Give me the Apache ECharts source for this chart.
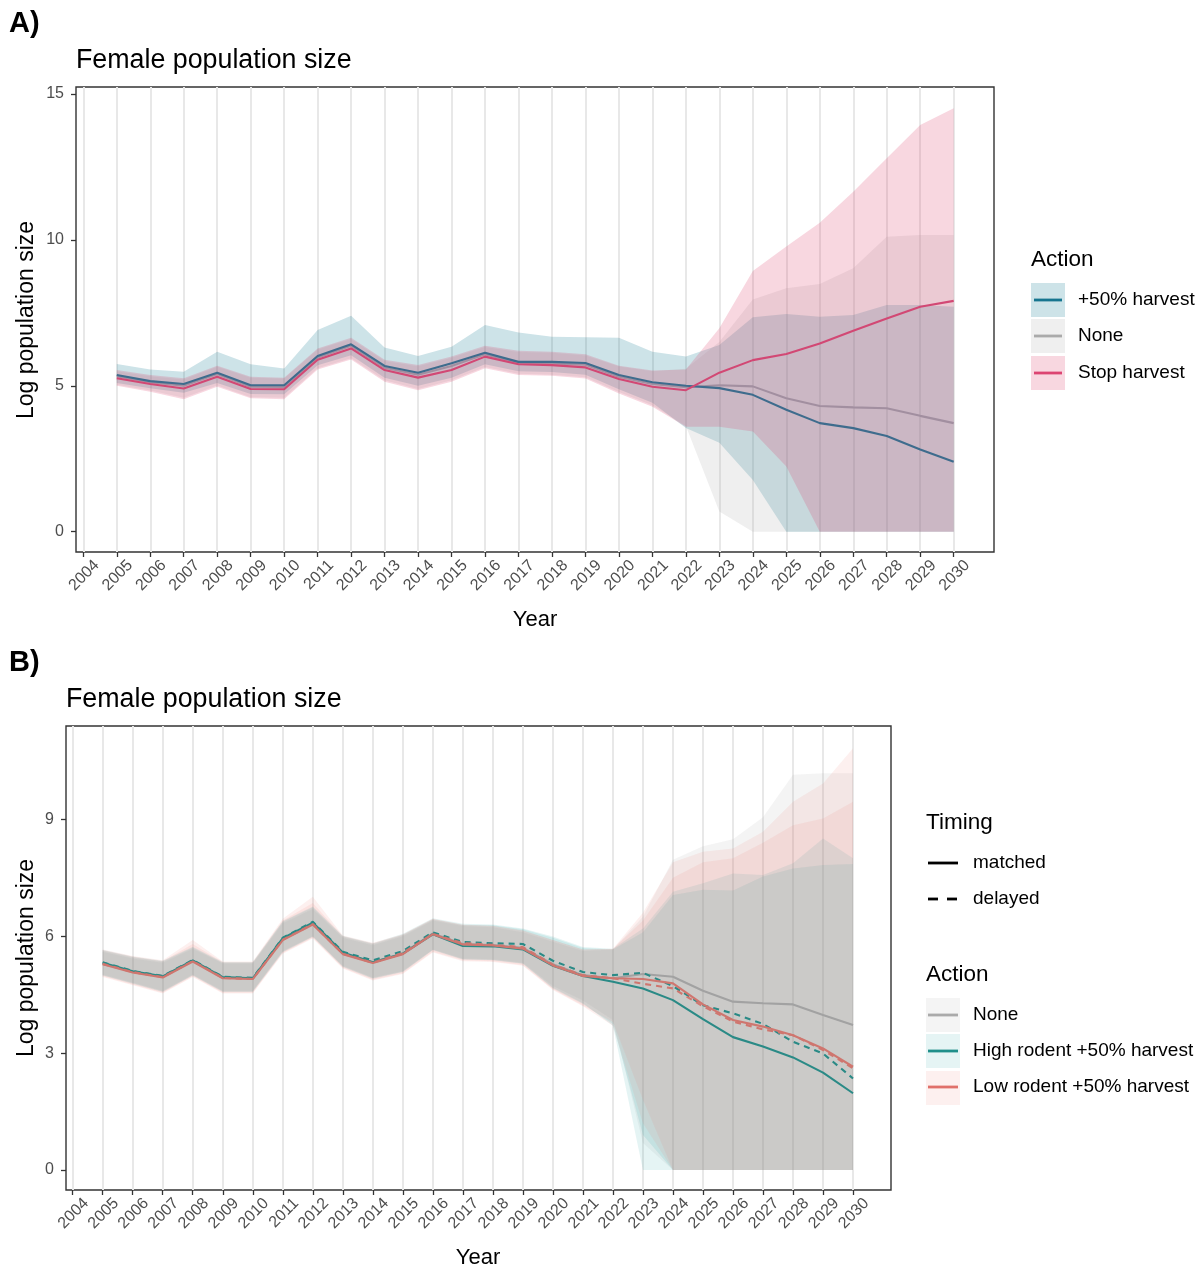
<!DOCTYPE html>
<html>
<head>
<meta charset="utf-8">
<script src="https://cdn.jsdelivr.net/npm/echarts@6/dist/echarts.min.js"></script>
<style>
  html, body { margin: 0; padding: 0; background: #ffffff; }
  #chart { width: 1204px; height: 1268px; }
</style>
</head>
<body>
<div id="chart"></div>
<script>
// ---- shared axes ----
const years = [2005, 2006, 2007, 2008, 2009, 2010, 2011, 2012, 2013, 2014, 2015, 2016, 2017,
               2018, 2019, 2020, 2021, 2022, 2023, 2024, 2025, 2026, 2027, 2028, 2029, 2030];
const yearTicks = [2004, 2005, 2006, 2007, 2008, 2009, 2010, 2011, 2012, 2013, 2014, 2015, 2016, 2017,
                   2018, 2019, 2020, 2021, 2022, 2023, 2024, 2025, 2026, 2027, 2028, 2029, 2030];
const yTicksA = [0, 5, 10, 15];
const yTicksB = [0, 3, 6, 9];

// ---- panel A: harvest actions (mean and interval of log female population) ----
const harvest50 = [5.37, 5.16, 5.06, 5.45, 5.02, 5.02, 6.02, 6.42, 5.68, 5.45, 5.77, 6.13, 5.82,
                   5.82, 5.78, 5.37, 5.12, 5.00, 4.92, 4.69, 4.18, 3.72, 3.55, 3.28, 2.82, 2.40];
const harvest50Lo = [5.10, 4.92, 4.76, 5.10, 4.72, 4.71, 5.70, 6.05, 5.28, 5.00, 5.28, 5.74, 5.50,
                     5.47, 5.38, 4.88, 4.42, 3.55, 3.05, 1.77, 0, 0, 0, 0, 0, 0];
const harvest50Hi = [5.75, 5.56, 5.48, 6.17, 5.74, 5.59, 6.91, 7.40, 6.31, 6.02, 6.34, 7.08, 6.83,
                     6.68, 6.66, 6.65, 6.17, 6.00, 6.40, 7.35, 7.46, 7.37, 7.43, 7.77, 7.77, 7.71];
const noneA = [5.33, 5.12, 5.00, 5.40, 4.97, 4.96, 5.97, 6.37, 5.62, 5.38, 5.68, 6.08, 5.78,
               5.77, 5.72, 5.31, 5.06, 4.95, 5.02, 4.98, 4.57, 4.31, 4.26, 4.23, 3.97, 3.72];
const noneALo = [5.04, 4.84, 4.59, 5.01, 4.61, 4.59, 5.60, 5.94, 5.19, 4.89, 5.19, 5.64, 5.41,
                 5.38, 5.29, 4.79, 4.33, 3.62, 0.69, 0, 0, 0, 0, 0, 0, 0];
const noneAHi = [5.50, 5.33, 5.22, 5.65, 5.28, 5.25, 6.24, 6.60, 5.85, 5.67, 5.96, 6.33, 6.16,
                 6.13, 6.04, 5.66, 5.50, 5.58, 6.50, 7.96, 8.34, 8.49, 9.03, 10.11, 10.17, 10.17];
const stopHarvest = [5.26, 5.06, 4.91, 5.31, 4.89, 4.88, 5.89, 6.28, 5.54, 5.28, 5.54, 6.00, 5.74,
                     5.71, 5.63, 5.23, 4.97, 4.85, 5.45, 5.88, 6.09, 6.45, 6.89, 7.31, 7.71, 7.91];
const stopHarvestLo = [5.00, 4.80, 4.54, 4.97, 4.57, 4.54, 5.56, 5.90, 5.14, 4.85, 5.14, 5.60, 5.37,
                       5.34, 5.25, 4.74, 4.28, 3.60, 3.60, 3.43, 2.23, 0, 0, 0, 0, 0];
const stopHarvestHi = [5.54, 5.37, 5.26, 5.69, 5.31, 5.28, 6.28, 6.65, 5.89, 5.71, 6.00, 6.37, 6.20,
                       6.17, 6.08, 5.69, 5.52, 5.56, 6.97, 8.93, 9.77, 10.59, 11.65, 12.80, 13.94, 14.51];

// ---- panel B: rodent scenarios with matched / delayed timing ----
const noneB = [5.30, 5.09, 4.96, 5.37, 4.94, 4.91, 5.92, 6.33, 5.56, 5.33, 5.56, 6.07, 5.80,
               5.77, 5.70, 5.28, 5.00, 4.92, 5.03, 4.96, 4.60, 4.32, 4.28, 4.25, 3.98, 3.72];
const noneBLo = [5.02, 4.81, 4.60, 5.02, 4.60, 4.60, 5.62, 6.00, 5.24, 4.94, 5.11, 5.66, 5.43,
                 5.41, 5.32, 4.72, 4.35, 3.85, 0.69, 0, 0, 0, 0, 0, 0, 0];
const noneBHi = [5.60, 5.43, 5.32, 5.68, 5.30, 5.30, 6.33, 6.70, 5.96, 5.77, 6.00, 6.40, 6.26,
                 6.23, 6.10, 5.86, 5.62, 5.66, 6.50, 7.96, 8.31, 8.49, 9.05, 10.14, 10.18, 10.18];

const highMatched = [5.32, 5.10, 4.97, 5.38, 4.95, 4.92, 5.95, 6.35, 5.58, 5.33, 5.55, 6.05, 5.75,
                     5.74, 5.66, 5.24, 4.98, 4.83, 4.66, 4.36, 3.87, 3.41, 3.17, 2.89, 2.50, 1.97];
const highMatchedLo = [5.00, 4.79, 4.58, 5.00, 4.58, 4.58, 5.60, 5.99, 5.22, 4.92, 5.09, 5.65, 5.41,
                       5.39, 5.30, 4.68, 4.28, 3.70, 0, 0, 0, 0, 0, 0, 0, 0];
const highMatchedHi = [5.63, 5.46, 5.35, 5.71, 5.32, 5.32, 6.37, 6.74, 5.99, 5.80, 6.03, 6.43, 6.29,
                       6.28, 6.18, 5.96, 5.70, 5.66, 6.10, 7.06, 7.19, 7.17, 7.53, 7.74, 7.83, 7.85];

const highDelayed = [5.33, 5.11, 4.98, 5.39, 4.96, 4.93, 5.96, 6.37, 5.60, 5.38, 5.62, 6.10, 5.85,
                     5.82, 5.80, 5.37, 5.08, 5.00, 5.06, 4.72, 4.23, 4.02, 3.75, 3.29, 2.99, 2.35];
const highDelayedLo = [4.99, 4.78, 4.57, 4.99, 4.57, 4.57, 5.59, 5.98, 5.21, 4.91, 5.08, 5.64, 5.40,
                       5.38, 5.29, 4.66, 4.26, 3.75, 0.90, 0, 0, 0, 0, 0, 0, 0];
const highDelayedHi = [5.65, 5.48, 5.37, 5.73, 5.34, 5.34, 6.39, 6.76, 6.01, 5.82, 6.06, 6.46, 6.32,
                       6.30, 6.20, 5.99, 5.72, 5.68, 6.20, 7.14, 7.36, 7.61, 7.57, 7.87, 8.51, 8.00];

const lowMatched = [5.28, 5.07, 4.94, 5.35, 4.92, 4.90, 5.90, 6.30, 5.54, 5.31, 5.54, 6.05, 5.79,
                    5.76, 5.68, 5.25, 4.98, 4.92, 4.90, 4.79, 4.25, 3.85, 3.68, 3.46, 3.12, 2.65];
const lowMatchedLo = [4.95, 4.74, 4.53, 4.95, 4.53, 4.53, 5.55, 5.94, 5.17, 4.86, 5.03, 5.58, 5.36,
                      5.34, 5.24, 4.62, 4.20, 3.70, 1.20, 0, 0, 0, 0, 0, 0, 0];
const lowMatchedHi = [5.66, 5.49, 5.38, 5.90, 5.35, 5.35, 6.45, 7.01, 6.02, 5.83, 6.05, 6.45, 6.30,
                      6.27, 6.15, 5.90, 5.66, 5.68, 6.60, 7.90, 8.17, 8.25, 8.68, 9.45, 9.92, 10.82];

const lowDelayed = [5.29, 5.08, 4.95, 5.36, 4.93, 4.90, 5.91, 6.31, 5.55, 5.32, 5.57, 6.06, 5.82,
                    5.78, 5.72, 5.27, 5.00, 4.92, 4.78, 4.66, 4.20, 3.81, 3.61, 3.46, 3.08, 2.61];
const lowDelayedLo = [4.97, 4.76, 4.55, 4.97, 4.55, 4.55, 5.57, 5.96, 5.19, 4.88, 5.05, 5.60, 5.38,
                      5.36, 5.26, 4.64, 4.22, 3.80, 1.80, 0, 0, 0, 0, 0, 0, 0];
const lowDelayedHi = [5.64, 5.47, 5.36, 5.80, 5.33, 5.33, 6.40, 6.85, 6.00, 5.81, 6.04, 6.44, 6.29,
                      6.26, 6.14, 5.90, 5.66, 5.67, 6.40, 7.50, 7.90, 8.00, 8.40, 8.85, 9.02, 9.45];

// ---- styling ----
const FONT = "'Liberation Sans', Arial, Helvetica, sans-serif";
const TICK_COLOR = '#4d4d4d';
const FRAME = '#333333';

const FILL_HARVEST = 'rgba(5,115,140,0.2)';
const FILL_NONE_A = 'rgba(175,175,175,0.2)';
const FILL_STOP = 'rgba(220,55,100,0.2)';
const FILL_NONE_B = 'rgba(150,150,150,0.105)';
const FILL_HIGH = 'rgba(10,155,155,0.105)';
const FILL_LOW = 'rgba(235,110,100,0.105)';

// interval band drawn as one polygon through the axis scales
function band(idx, lo, hi, fill, z) {
  return {
    type: 'custom', xAxisIndex: idx, yAxisIndex: idx, z: z, silent: true,
    data: years.map((y, i) => [y, lo[i], hi[i]]),
    encode: { x: 0, y: [1, 2] },
    renderItem: function (params, api) {
      if (params.dataIndex !== 0) return null;
      const pts = [];
      for (let i = 0; i < years.length; i++) pts.push(api.coord([years[i], hi[i]]));
      for (let i = years.length - 1; i >= 0; i--) pts.push(api.coord([years[i], lo[i]]));
      return { type: 'polygon', shape: { points: pts }, style: { fill: fill } };
    }
  };
}

function line(idx, vals, color, z, dashed) {
  return {
    type: 'line', xAxisIndex: idx, yAxisIndex: idx, z: z, silent: true,
    data: years.map((y, i) => [y, vals[i]]),
    symbol: 'none',
    lineStyle: { color: color, width: 2.1, type: dashed ? [6, 5] : 'solid', cap: 'butt' },
    emphasis: { disabled: true }
  };
}

function xAxis(idx, min, max) {
  return {
    type: 'value', gridIndex: idx, min: min, max: max,
    axisLine: { show: false, onZero: false },
    axisTick: { show: true, customValues: yearTicks, length: 5, lineStyle: { color: FRAME, width: 1.3 } },
    axisLabel: {
      customValues: yearTicks, rotate: 45, margin: 13, fontSize: 16, color: TICK_COLOR,
      fontFamily: FONT, verticalAlign: 'top', padding: [0, -11, 0, 0],
      formatter: v => String(Math.round(v))
    },
    splitLine: { show: true, lineStyle: { color: '#e8e8e8', width: 2 } }
  };
}

function yAxis(idx, min, max, ticks) {
  return {
    type: 'value', gridIndex: idx, min: min, max: max,
    axisLine: { show: false, onZero: false },
    axisTick: { show: true, customValues: ticks, length: 5, lineStyle: { color: FRAME, width: 1.3 } },
    axisLabel: {
      customValues: ticks, margin: 12, fontSize: 16, color: TICK_COLOR,
      fontFamily: FONT, formatter: v => String(Math.round(v))
    },
    splitLine: { show: false }
  };
}

function text(x, y, s, size, extra) {
  const o = extra || {};
  return {
    type: 'text', x: x, y: y, rotation: o.rot || 0, silent: true, z: 50,
    style: {
      text: s, fontSize: size, fontFamily: FONT, fontWeight: o.bold ? 'bold' : 'normal',
      fill: o.color || '#000000', align: o.align || 'left', verticalAlign: 'middle'
    }
  };
}
function rect(x, y, w, h, fill) {
  return { type: 'rect', silent: true, z: 50, shape: { x: x, y: y, width: w, height: h }, style: { fill: fill } };
}
function seg(x1, y1, x2, y2, color, w) {
  return { type: 'line', silent: true, z: 51, shape: { x1: x1, y1: y1, x2: x2, y2: y2 },
           style: { stroke: color, lineWidth: w } };
}

const graphics = [
  // panel A headings
  text(9, 24, 'A)', 29, { bold: true }),
  text(76, 61, 'Female population size', 26.8),
  text(535, 620, 'Year', 22, { align: 'center' }),
  text(27, 320, 'Log population size', 23, { align: 'center', rot: Math.PI / 2 }),
  // panel A legend
  text(1031, 260, 'Action', 22.5),
  rect(1031, 283, 34, 34, FILL_HARVEST), seg(1034, 300, 1062, 300, '#16758f', 2.8),
  rect(1031, 319, 34, 34, FILL_NONE_A), seg(1034, 336, 1062, 336, '#aaaaaa', 2.8),
  rect(1031, 356, 34, 34, FILL_STOP), seg(1034, 373, 1062, 373, '#dc4472', 2.8),
  text(1078, 300, '+50% harvest', 19),
  text(1078, 336, 'None', 19),
  text(1078, 373, 'Stop harvest', 19),

  // panel B headings
  text(9, 663, 'B)', 29, { bold: true }),
  text(66, 700, 'Female population size', 26.8),
  text(478, 1258, 'Year', 22, { align: 'center' }),
  text(27, 958, 'Log population size', 23, { align: 'center', rot: Math.PI / 2 }),
  // panel B legends
  text(926, 823, 'Timing', 22.5),
  seg(928, 863, 958, 863, '#000000', 2.8),
  seg(928, 899, 938, 899, '#000000', 2.8), seg(947, 899, 957, 899, '#000000', 2.8),
  text(973, 863, 'matched', 19),
  text(973, 899, 'delayed', 19),
  text(926, 975, 'Action', 22.5),
  rect(926, 998, 34, 34, FILL_NONE_B), seg(928, 1015, 958, 1015, '#aaaaaa', 2.8),
  rect(926, 1034, 34, 34, FILL_HIGH), seg(928, 1051, 958, 1051, '#1f8f8a', 2.8),
  rect(926, 1071, 34, 34, FILL_LOW), seg(928, 1087, 958, 1087, '#e0706a', 2.8),
  text(973, 1015, 'None', 19),
  text(973, 1051, 'High rodent +50% harvest', 19),
  text(973, 1087, 'Low rodent +50% harvest', 19)
];

const option = {
  animation: false,
  backgroundColor: '#ffffff',
  grid: [
    { left: 76, top: 87, width: 918, height: 465, show: true, borderColor: FRAME, borderWidth: 1.4,
      backgroundColor: 'transparent', containLabel: false },
    { left: 66, top: 726, width: 825, height: 464, show: true, borderColor: FRAME, borderWidth: 1.4,
      backgroundColor: 'transparent', containLabel: false }
  ],
  xAxis: [xAxis(0, 2003.782, 2031.204), xAxis(1, 2003.777, 2031.265)],
  yAxis: [yAxis(0, -0.696, 15.24, yTicksA), yAxis(1, -0.513, 11.394, yTicksB)],
  series: [
    band(0, harvest50Lo, harvest50Hi, FILL_HARVEST, 2),
    band(0, noneALo, noneAHi, FILL_NONE_A, 3),
    band(0, stopHarvestLo, stopHarvestHi, FILL_STOP, 4),
    line(0, noneA, '#a28fa0', 10),
    line(0, harvest50, '#3e6c8d', 11),
    line(0, stopHarvest, '#d24874', 12),

    band(1, noneBLo, noneBHi, FILL_NONE_B, 2),
    band(1, highMatchedLo, highMatchedHi, FILL_HIGH, 3),
    band(1, highDelayedLo, highDelayedHi, FILL_HIGH, 4),
    band(1, lowMatchedLo, lowMatchedHi, FILL_LOW, 5),
    band(1, lowDelayedLo, lowDelayedHi, FILL_LOW, 6),
    line(1, noneB, '#a2a2a2', 10),
    line(1, highMatched, '#2a8a86', 11),
    line(1, highDelayed, '#2a8a86', 12, true),
    line(1, lowMatched, '#cf766f', 13),
    line(1, lowDelayed, '#cf766f', 14, true)
  ],
  graphic: graphics
};

const chart = echarts.init(document.getElementById('chart'), null, { renderer: 'canvas' });
chart.setOption(option);
</script>
</body>
</html>
